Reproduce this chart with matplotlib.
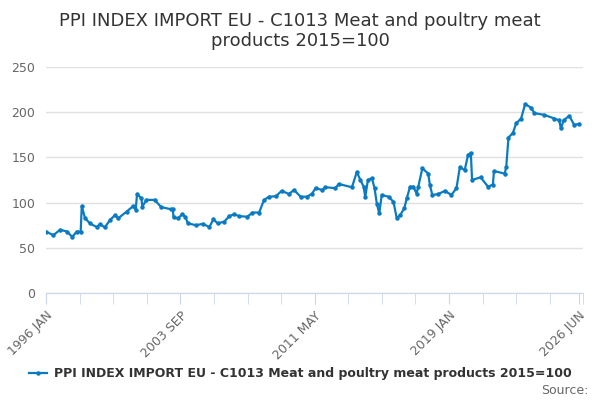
import matplotlib
matplotlib.use("Agg")
import matplotlib.pyplot as plt
from matplotlib.lines import Line2D

years = [1996.0,1996.41,1996.8,1997.18,1997.49,1997.74,1997.97,1998.03,1998.22,1998.5,1998.88,1999.07,1999.35,1999.64,1999.92,
 2000.11,2000.59,2000.96,2001.11,2001.19,2001.44,2001.49,2001.72,2002.19,2002.57,2003.14,2003.23,2003.27,2003.52,2003.77,2003.95,
 2004.09,2004.56,2004.94,2005.32,2005.55,2005.79,2006.17,2006.45,2006.74,2007.02,2007.49,2007.78,2008.16,2008.44,2008.73,2009.11,
 2009.45,2009.86,2010.15,2010.53,2010.9,2011.19,2011.38,2011.76,2011.95,2012.52,2012.7,2013.46,2013.74,2013.94,2014.13,2014.22,
 2014.37,2014.6,2014.75,2014.88,2015.02,2015.16,2015.55,2015.83,2016.02,2016.21,2016.45,2016.59,2016.78,2016.97,2017.15,2017.25,
 2017.48,2017.82,2017.91,2018.05,2018.39,2018.77,2019.14,2019.43,2019.62,2019.9,2020.09,2020.25,2020.32,2020.81,2021.23,2021.51,
 2021.57,2022.18,2022.27,2022.4,2022.65,2022.84,2023.12,2023.35,2023.69,2023.88,2024.45,2025.02,2025.3,2025.39,2025.55,2025.87,
 2026.15,2026.42]
values = [67.8,64,70,68,62,68,68,96,82.6,77,73,76,72.6,80.7,86,
 82.6,90,96,92,109.5,104.7,95.5,103,103,95,92.6,93,83.7,82.6,87,84.4,
 77,75,76.5,73,81.5,77,79,85,87,85,84.4,89,89,103,106.5,107,
 113,109.5,114,106.5,106.5,110,116,114,117,116,120.6,117,134,125,117.6,106,
 125,127,116,99,88,108.4,106.5,101,82.6,86,93.7,104.7,117.6,117.6,110,117.6,
 138,132,119.5,108.4,109.5,113,108.4,116,139,136,152.7,155,125,128,117.6,120,
 135,132,139,172,177,187.7,193,209,205,199,197,193,191,182,191,196,
 186,187]

tick_pos = [1996.0, 2003.667, 2011.333, 2019.0, 2026.417]
tick_labels = ["1996 JAN", "2003 SEP", "2011 MAY", "2019 JAN", "2026 JUN"]
name = "PPI INDEX IMPORT EU - C1013 Meat and poultry meat products 2015=100"
title = "PPI INDEX IMPORT EU - C1013 Meat and poultry meat\nproducts 2015=100"

color = "#0a7bc2"
fig = plt.figure(figsize=(6, 4), dpi=100)
ax = fig.add_axes([0.077, 0.2675, 0.895, 0.565])
ax.plot(years, values, color=color, lw=1.6, marker="o", ms=2.2)
ax.set_xlim(1996.0, 2026.45)
ax.set_ylim(0, 250)
ax.set_yticks([0, 50, 100, 150, 200, 250])
ax.grid(axis="y", color="#e0e0e0", lw=1)
ax.set_axisbelow(True)
for s in ["top", "right", "left"]:
    ax.spines[s].set_visible(False)
ax.spines["bottom"].set_color("#ccd6eb")
ax.tick_params(axis="y", length=0, labelsize=9, colors="#666666", pad=8)
minor = [1996.0 + i * 23 / 12 for i in range(17)]
ax.set_xticks(minor, minor=True)
ax.set_xticks(tick_pos)
ax.set_xticklabels(tick_labels, rotation=45, ha="right", rotation_mode="anchor", fontsize=9, color="#666666")
ax.tick_params(axis="x", which="both", length=8, color="#ccd6eb")
fig.text(0.5, 0.97, title, ha="center", va="top", fontsize=13, color="#333333", linespacing=1.15)
handle = Line2D([0], [0], color=color, lw=1.6, marker="o", ms=2.2)
fig.legend([handle], [name], loc="center", bbox_to_anchor=(0.5, 0.065), frameon=False,
           prop={"size": 9, "weight": "bold"}, labelcolor="#333333", handlelength=1.5, handletextpad=0.5)
fig.text(0.98, 0.025, "Source:", ha="right", va="center", fontsize=9, color="#666666")
fig.savefig("out.png", dpi=100)
